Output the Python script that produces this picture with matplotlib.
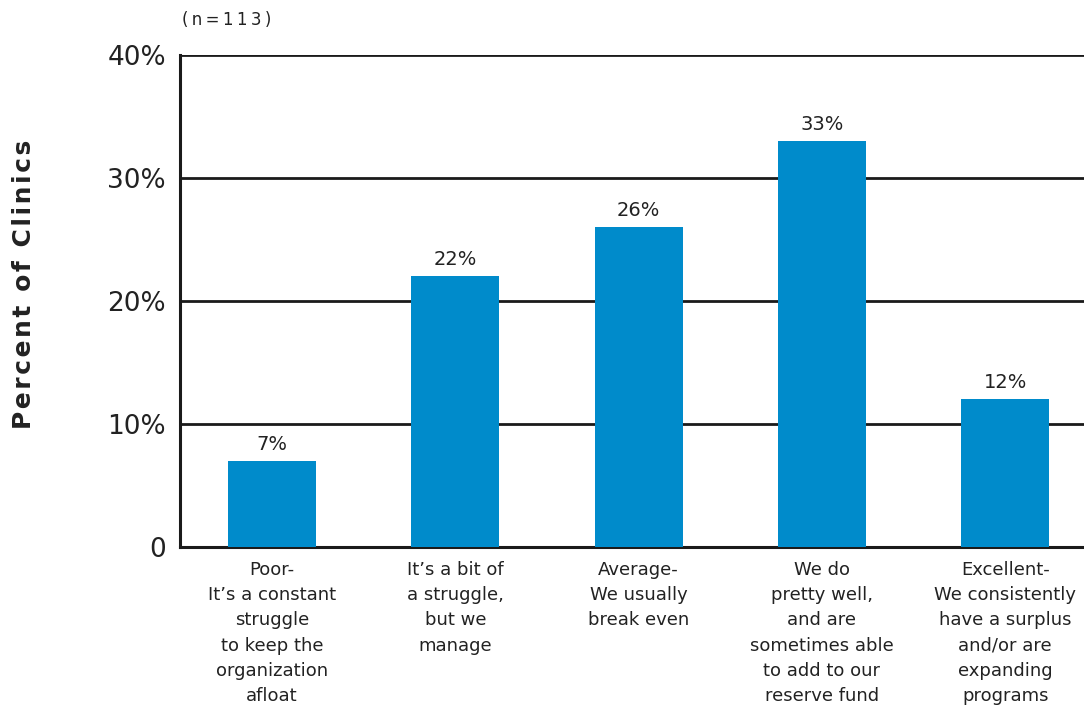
import numpy as np
import matplotlib.pyplot as plt

# Data
categorias = [
    "Poor-\nIt\u2019s a constant\nstruggle\nto keep the\norganization\nafloat",
    "It\u2019s a bit of\na struggle,\nbut we\nmanage",
    "Average-\nWe usually\nbreak even",
    "We do\npretty well,\nand are\nsometimes able\nto add to our\nreserve fund",
    "Excellent-\nWe consistently\nhave a surplus\nand/or are\nexpanding\nprograms",
]
porcentajes = [7, 22, 26, 33, 12]
ticks_y = [0, 10, 20, 30, 40]
etiquetas_y = ["0", "10%", "20%", "30%", "40%"]

plt.rcParams['font.family'] = ['DejaVu Sans']

fig = plt.figure(figsize=(10.84, 7.10), dpi=100)
ax = fig.add_axes([0.166, 0.2296, 0.834, 0.6929])

x = np.arange(len(categorias))
ax.bar(x, porcentajes, width=0.48, color='#008BCB', zorder=3)

for xi, v in zip(x, porcentajes):
    ax.text(xi, v + 0.6, f"{v}%", ha='center', va='bottom', fontsize=14, color='#222222')

ax.set_ylim(0, 40)
ax.set_xlim(-0.503, 4.43)
ax.set_yticks(ticks_y)
ax.set_yticklabels(etiquetas_y, fontsize=19, color='#222222')
ax.set_xticks(x)
ax.set_xticklabels(categorias, fontsize=13, color='#222222', linespacing=1.52, va='top')
ax.tick_params(axis='both', length=0, pad=10)

for y in ticks_y[1:]:
    ax.axhline(y, color='#1a1a1a', lw=2.0, zorder=1)

for lado in ['top', 'right']:
    ax.spines[lado].set_visible(False)
ax.spines['left'].set_linewidth(2.2)
ax.spines['bottom'].set_linewidth(2.2)
ax.spines['left'].set_color('#1a1a1a')
ax.spines['bottom'].set_color('#1a1a1a')

fig.text(0.022, 0.6, "\u200a".join("Percent of Clinics"),
         rotation=90, ha='center', va='center', fontsize=18, fontweight='bold', color='#222222')
fig.text(0.168, 0.972, "\u2009".join("(n=113)"), ha='left', va='center', fontsize=12, color='#222222')

fig.savefig('out.png', dpi=100)
